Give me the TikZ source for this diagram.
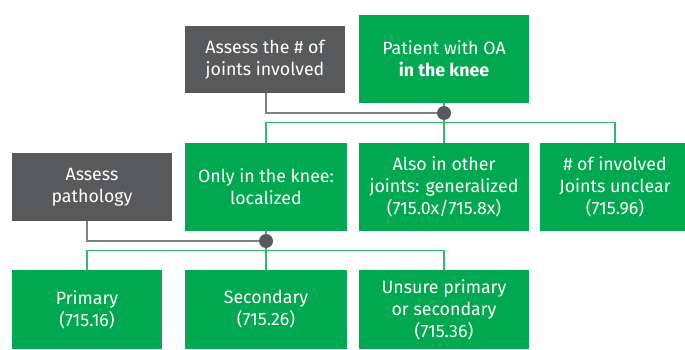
\documentclass[tikz,border=0pt]{standalone}
\usepackage{fontspec}
\setmainfont{Fira Sans}
\definecolor{boxgreen}{HTML}{00A94F}
\definecolor{linegreen}{HTML}{2DBB67}
\definecolor{boxgray}{HTML}{58595B}
\definecolor{linegray}{HTML}{7F7F80}
\begin{document}
\begin{tikzpicture}[x=1pt,y=-1pt,
  base/.style={text=white, align=center, inner sep=0pt,
    font=\fontsize{17.8}{22}\selectfont},
  greenbox/.style={base, fill=boxgreen},
  graybox/.style={base, fill=boxgray},
  gline/.style={draw=linegreen, line width=1.3pt},
  kline/.style={draw=linegray, line width=1.3pt},
  junction/.style={fill=boxgray}]
\useasboundingbox (0,0) rectangle (685,350);

% level 0
\node[graybox, minimum width=160pt, minimum height=67pt] (askj) at (265,59.5) {Assess the \# of\\joints involved};
\node[greenbox, minimum width=170pt, minimum height=88pt] (top) at (444,59) {Patient with OA\\\textbf{in the knee}};

% level 1
\node[greenbox, minimum width=162pt, minimum height=88pt] (loc) at (266,187) {Only in the knee:\\localized};
\node[greenbox, minimum width=170pt, minimum height=88pt] (gen) at (444,187) {Also in other\\joints: generalized\\(715.0x/715.8x)};
\node[greenbox, minimum width=150pt, minimum height=88pt] (unc) at (615,187) {\# of involved\\Joints unclear\\(715.96)};
\node[graybox, minimum width=160pt, minimum height=68pt] (askp) at (92,187) {Assess\\pathology};

% level 2
\node[greenbox, minimum width=150pt, minimum height=79pt] (pri) at (87,309.5) {Primary\\(715.16)};
\node[greenbox, minimum width=162pt, minimum height=79pt] (sec) at (266,309.5) {Secondary\\(715.26)};
\node[greenbox, minimum width=170pt, minimum height=79pt] (uns) at (444,309.5) {Unsure primary\\or secondary\\(715.36)};

\coordinate (j1) at (444,113);
\coordinate (j2) at (266,241);

% branches from the first question
\draw[gline] (top.south) -- (gen.north);
\draw[gline] (loc.north) -- ++(0,-20) -| (unc.north);
\draw[kline] (askj.south -| loc.north) |- (j1);
\fill[junction] (j1) circle (7pt);

% branches from the second question
\draw[gline] (loc.south) -- (sec.north);
\draw[gline] (pri.north) -- ++(0,-19) -| (uns.north);
\draw[kline] (askp.south -| pri.north) |- (j2);
\fill[junction] (j2) circle (7pt);
\end{tikzpicture}
\end{document}
